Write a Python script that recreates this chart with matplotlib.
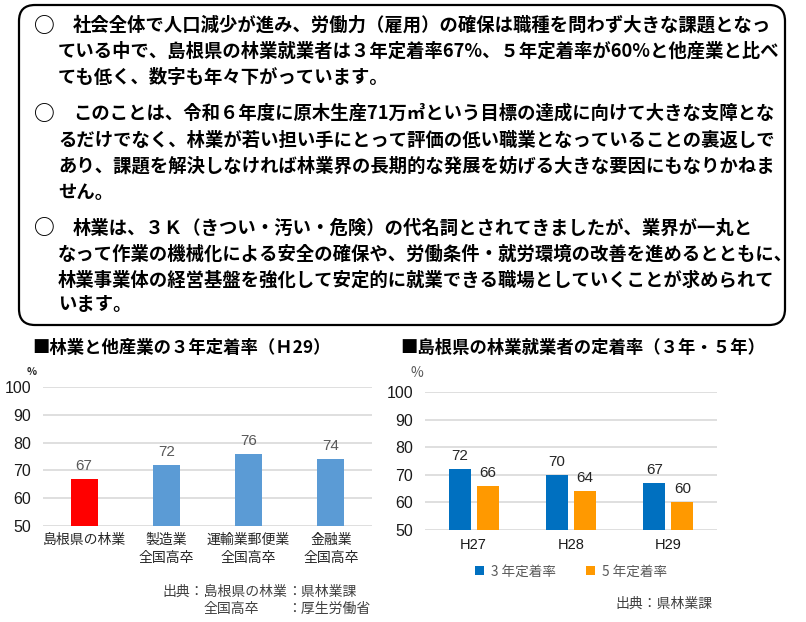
import matplotlib
matplotlib.use("Agg")
import matplotlib.pyplot as plt
from matplotlib.patches import FancyBboxPatch
import numpy as np

plt.rcParams['font.family'] = ['Noto Sans CJK JP', 'DejaVu Sans']

W, H = 806, 622
NUM_FONT = ['Liberation Sans Narrow', 'Liberation Sans', 'DejaVu Sans']

# --- text block ---
para1 = ['社会全体で人口減少が進み、労働力（雇用）の確保は職種を問わず大きな課題となっ',
         'ている中で、島根県の林業就業者は３年定着率67%、５年定着率が60%と他産業と比べ',
         'ても低く、数字も年々下がっています。']
para2 = ['このことは、令和６年度に原木生産71万㎥という目標の達成に向けて大きな支障とな',
         'るだけでなく、林業が若い担い手にとって評価の低い職業となっていることの裏返しで',
         'あり、課題を解決しなければ林業界の長期的な発展を妨げる大きな要因にもなりかねま',
         'せん。']
para3 = ['林業は、３Ｋ（きつい・汚い・危険）の代名詞とされてきましたが、業界が一丸と',
         'なって作業の機械化による安全の確保や、労働条件・就労環境の改善を進めるとともに、',
         '林業事業体の経営基盤を強化して安定的に就業できる職場としていくことが求められて',
         'います。']

# --- left chart data ---
left_title = '■林業と他産業の３年定着率（Ｈ29）'
left_cats = ['島根県の林業', '製造業\n全国高卒', '運輸業郵便業\n全国高卒', '金融業\n全国高卒']
left_vals = [67, 72, 76, 74]
left_colors = ['#FF0000', '#5B9BD5', '#5B9BD5', '#5B9BD5']

# --- right chart data ---
right_title = '■島根県の林業就業者の定着率（３年・５年）'
years = ['H27', 'H28', 'H29']
rate3 = [72, 70, 67]
rate5 = [66, 64, 60]
series_names = ['3 年定着率', '5 年定着率']

yticks = [50, 60, 70, 80, 90, 100]

fig = plt.figure(figsize=(W / 100, H / 100), dpi=100)

# overlay in pixel coordinates
bg = fig.add_axes([0, 0, 1, 1])
bg.set_xlim(0, W)
bg.set_ylim(H, 0)
bg.axis('off')

bg.add_patch(FancyBboxPatch((19, 5), 766, 320,
                            boxstyle="round,pad=0,rounding_size=16",
                            fc='white', ec='black', lw=1.6))

body_fs = 13.2
line_y = [[25, 51.5, 77.5], [113, 140, 166, 192], [228, 254, 280, 305]]
for para, ys in zip([para1, para2, para3], line_y):
    bg.text(44.5, ys[0], '○', fontsize=15, fontweight='bold', va='center', ha='center')
    for i, (line, y) in enumerate(zip(para, ys)):
        x = 73 if i == 0 else 58
        bg.text(x, y, line, fontsize=body_fs, fontweight='bold', va='center', ha='left')

# titles
bg.text(32, 348, left_title, fontsize=12.5, fontweight='bold', va='center', ha='left')
bg.text(400, 348, right_title, fontsize=12.5, fontweight='bold', va='center', ha='left')

# percent marks
bg.text(32, 372, '%', fontsize=7.5, fontweight='bold', va='center', ha='center', color='#262626')
bg.text(417, 373, '%', fontsize=10, va='center', ha='center', color='#595959')

# sources
bg.text(287, 592, '出典：島根県の林業', fontsize=10, va='center', ha='right', color='#404040')
bg.text(287, 592, '：県林業課', fontsize=10, va='center', ha='left', color='#404040')
bg.text(204, 609, '全国高卒', fontsize=10, va='center', ha='left', color='#404040')
bg.text(287, 609, '：厚生労働省', fontsize=10, va='center', ha='left', color='#404040')
bg.text(615, 604, '出典：県林業課', fontsize=10, va='center', ha='left', color='#404040')


def px_axes(x0, x1, y0, y1):
    return fig.add_axes([x0 / W, (H - y1) / H, (x1 - x0) / W, (y1 - y0) / H])


def style_axes(ax):
    ax.set_ylim(50, 100)
    ax.set_yticks(yticks)
    ax.yaxis.grid(True, color='#D9D9D9', lw=1.2)
    ax.set_axisbelow(True)
    for s in ax.spines.values():
        s.set_visible(False)
    ax.tick_params(length=0)
    ax.tick_params(axis='y', pad=8.5)
    ax.patch.set_alpha(0)
    for lab in ax.get_yticklabels():
        lab.set_fontfamily(NUM_FONT)
        lab.set_fontsize(11.5)
        lab.set_color('#1a1a1a')


# left chart
axl = px_axes(43, 372, 387, 526)
xl = np.arange(len(left_cats))
bars = axl.bar(xl, np.array(left_vals) - 50, bottom=50, width=0.33, color=left_colors)
axl.set_xlim(-0.5, len(left_cats) - 0.5)
style_axes(axl)
axl.set_xticks(xl)
axl.set_xticklabels(left_cats, fontsize=10, color='#262626', linespacing=1.4)
axl.tick_params(axis='x', pad=5)
for x, v in zip(xl, left_vals):
    axl.text(x, v + 2.2, str(v), ha='center', va='bottom', fontsize=11,
             family=['Liberation Sans', 'DejaVu Sans'], color='#595959')

# right chart
axr = px_axes(425, 717, 392, 530)
xr = np.arange(len(years))
off, bw = 0.144, 0.226
b3 = axr.bar(xr - off, np.array(rate3) - 50, bottom=50, width=bw, color='#0070C0',
             label=series_names[0])
b5 = axr.bar(xr + off, np.array(rate5) - 50, bottom=50, width=bw, color='#FF9900',
             label=series_names[1])
axr.set_xlim(-0.5, len(years) - 0.5)
style_axes(axr)
axr.set_xticks(xr)
axr.set_xticklabels(years, fontsize=10.5, family=NUM_FONT, color='#1a1a1a')
axr.tick_params(axis='x', pad=6)
for x, v in zip(xr - off, rate3):
    axr.text(x, v + 2.2, str(v), ha='center', va='bottom', fontsize=11,
             family=['Liberation Sans', 'DejaVu Sans'], color='#262626')
for x, v in zip(xr + off, rate5):
    axr.text(x, v + 2.2, str(v), ha='center', va='bottom', fontsize=11,
             family=['Liberation Sans', 'DejaVu Sans'], color='#262626')
leg = axr.legend(handles=[b3, b5], loc='center', bbox_to_anchor=(0.5, -0.3), ncol=2,
                 frameon=False, handlelength=0.65, handleheight=0.65, handletextpad=0.5,
                 columnspacing=2.2, fontsize=9.8)
for t in leg.get_texts():
    t.set_color('#595959')

fig.savefig('out.png', dpi=100)
